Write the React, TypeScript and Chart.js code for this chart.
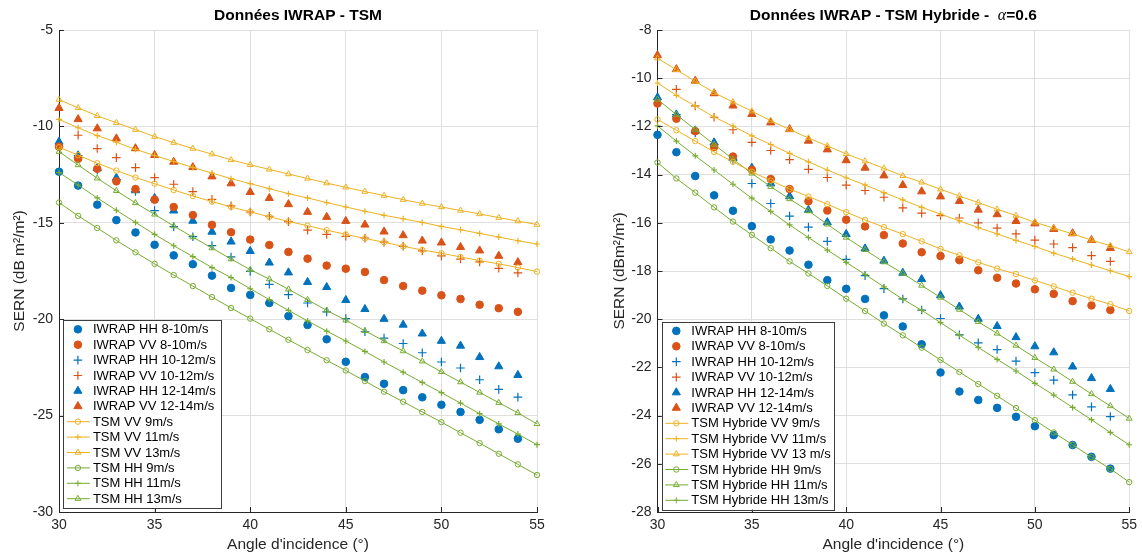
import React, { useEffect, useRef } from 'react';
import { Chart, registerables } from 'chart.js';

Chart.register(...registerables);

const FONT = "'Liberation Sans', Arial, Helvetica, sans-serif";
const BLUE = '#0072BD';
const ORANGE = '#D95319';
const YELLOW = '#EDB120';
const GREEN = '#77AC30';
const AXIS = '#262626';
const GRID = '#dfdfdf';

// ---------- data ----------
const ANGLES_IWRAP = [30, 31, 32, 33, 34, 35, 36, 37, 38, 39, 40, 41, 42, 43, 44, 45, 46, 47, 48, 49, 50, 51, 52, 53, 54];
const ANGLES_TSM = [30, 31, 32, 33, 34, 35, 36, 37, 38, 39, 40, 41, 42, 43, 44, 45, 46, 47, 48, 49, 50, 51, 52, 53, 54, 55];
const X_TICKS = [30, 35, 40, 45, 50, 55];
const Y_TICKS_LEFT = [-30, -25, -20, -15, -10, -5];
const Y_TICKS_RIGHT = [-28, -26, -24, -22, -20, -18, -16, -14, -12, -10, -8];

const IWRAP_HH_8_10 = [-12.35, -13.07, -14.06, -14.86, -15.5, -16.14, -16.69, -17.15, -17.74, -18.38, -18.74, -19.16, -19.84, -20.3, -21.04, -22.21, -23.0, -23.35, -23.68, -24.05, -24.44, -24.81, -25.22, -25.71, -26.2];
const IWRAP_VV_8_10 = [-11.05, -11.68, -12.2, -12.85, -13.25, -13.8, -14.18, -14.6, -15.11, -15.49, -15.87, -16.15, -16.51, -16.86, -17.22, -17.38, -17.55, -17.97, -18.28, -18.52, -18.76, -18.95, -19.25, -19.43, -19.62];
const IWRAP_HH_10_12 = [null, -11.51, -12.27, -12.76, -13.37, -14.37, -15.2, -15.72, -16.18, -16.77, -17.52, -18.19, -18.73, -19.16, -19.62, -19.97, -20.65, -20.98, -21.26, -21.74, -22.22, -22.53, -23.14, -23.64, -24.04];
const IWRAP_VV_10_12 = [null, -10.46, -11.15, -11.62, -12.14, -12.66, -13.0, -13.38, -13.78, -14.12, -14.44, -14.66, -14.94, -15.38, -15.6, -15.7, -15.8, -16.0, -16.22, -16.46, -16.72, -16.88, -17.03, -17.36, -17.6];
const IWRAP_HH_12_14 = [-10.8, -11.51, -12.17, -12.67, -13.32, -13.72, -14.37, -14.9, -15.47, -15.98, -16.47, -17.07, -17.58, -18.08, -18.34, -19.01, -19.48, -19.99, -20.29, -20.75, -21.13, -21.38, -21.97, -22.45, -22.9];
const IWRAP_VV_12_14 = [-9.05, -9.63, -10.11, -10.63, -11.14, -11.49, -11.84, -12.12, -12.6, -12.96, -13.41, -13.72, -14.04, -14.44, -14.7, -14.91, -15.1, -15.46, -15.65, -15.93, -16.03, -16.26, -16.44, -16.72, -17.05];

const TSM_VV_9 = [-11.08, -11.49, -11.91, -12.29, -12.65, -12.97, -13.3, -13.61, -13.9, -14.18, -14.43, -14.69, -14.93, -15.15, -15.38, -15.6, -15.81, -16.01, -16.22, -16.41, -16.58, -16.77, -16.96, -17.13, -17.32, -17.53];
const TSM_VV_11 = [-9.64, -10.07, -10.48, -10.82, -11.19, -11.51, -11.82, -12.13, -12.42, -12.71, -12.97, -13.23, -13.49, -13.71, -13.95, -14.18, -14.4, -14.61, -14.79, -14.98, -15.19, -15.36, -15.55, -15.74, -15.93, -16.1];
const TSM_VV_13 = [-8.61, -9.04, -9.45, -9.81, -10.17, -10.53, -10.84, -11.15, -11.44, -11.74, -11.99, -12.23, -12.47, -12.7, -12.94, -13.16, -13.38, -13.59, -13.8, -14.0, -14.18, -14.36, -14.54, -14.73, -14.91, -15.09];
const TSM_HH_9 = [-13.95, -14.64, -15.27, -15.91, -16.53, -17.13, -17.71, -18.28, -18.85, -19.42, -19.97, -20.52, -21.07, -21.6, -22.13, -22.66, -23.21, -23.76, -24.28, -24.81, -25.34, -25.89, -26.43, -26.98, -27.53, -28.08];
const TSM_HH_11 = [-12.39, -13.04, -13.71, -14.35, -14.98, -15.6, -16.19, -16.75, -17.32, -17.84, -18.42, -18.98, -19.54, -20.09, -20.62, -21.13, -21.67, -22.22, -22.75, -23.28, -23.81, -24.35, -24.9, -25.43, -25.96, -26.51];
const TSM_HH_13 = [-11.31, -12.0, -12.69, -13.34, -13.97, -14.56, -15.17, -15.74, -16.31, -16.88, -17.43, -17.92, -18.45, -18.99, -19.54, -20.05, -20.6, -21.13, -21.65, -22.18, -22.73, -23.26, -23.8, -24.33, -24.86, -25.43];

const HYB_VV_9 = [-11.71, -12.16, -12.61, -13.06, -13.47, -13.88, -14.25, -14.6, -14.91, -15.23, -15.56, -15.88, -16.18, -16.47, -16.77, -17.08, -17.35, -17.64, -17.9, -18.13, -18.39, -18.64, -18.9, -19.15, -19.38, -19.66];
const HYB_VV_11 = [-10.2, -10.71, -11.15, -11.61, -11.99, -12.39, -12.75, -13.12, -13.47, -13.81, -14.13, -14.43, -14.75, -15.05, -15.36, -15.64, -15.92, -16.2, -16.46, -16.73, -16.98, -17.26, -17.5, -17.75, -17.99, -18.23];
const HYB_VV_13 = [-9.17, -9.65, -10.13, -10.6, -10.99, -11.37, -11.76, -12.13, -12.48, -12.81, -13.14, -13.44, -13.74, -14.05, -14.32, -14.61, -14.89, -15.16, -15.44, -15.7, -15.98, -16.22, -16.46, -16.72, -16.95, -17.21];
const HYB_HH_9 = [-13.5, -14.16, -14.75, -15.36, -15.95, -16.5, -17.05, -17.6, -18.1, -18.62, -19.15, -19.66, -20.18, -20.67, -21.18, -21.69, -22.19, -22.69, -23.18, -23.69, -24.19, -24.7, -25.21, -25.72, -26.21, -26.76];
const HYB_HH_11 = [-10.88, -11.51, -12.13, -12.75, -13.36, -13.95, -14.5, -15.01, -15.51, -16.06, -16.61, -17.12, -17.63, -18.1, -18.6, -19.1, -19.6, -20.11, -20.59, -21.09, -21.6, -22.08, -22.59, -23.1, -23.6, -24.12];
const HYB_HH_13 = [-11.98, -12.61, -13.22, -13.81, -14.4, -14.98, -15.53, -16.09, -16.61, -17.13, -17.64, -18.14, -18.66, -19.17, -19.63, -20.14, -20.66, -21.17, -21.67, -22.15, -22.66, -23.15, -23.66, -24.17, -24.7, -25.21];

// ---------- series definitions ----------
type Marker = 'circle' | 'cross' | 'triangle';
interface Series { label: string; x: number[]; y: (number | null)[]; color: string; marker: Marker; line: boolean; }

const IWRAP_SERIES: Series[] = [
  { label: 'IWRAP HH 8-10m/s', x: ANGLES_IWRAP, y: IWRAP_HH_8_10, color: BLUE, marker: 'circle', line: false },
  { label: 'IWRAP VV 8-10m/s', x: ANGLES_IWRAP, y: IWRAP_VV_8_10, color: ORANGE, marker: 'circle', line: false },
  { label: 'IWRAP HH 10-12m/s', x: ANGLES_IWRAP, y: IWRAP_HH_10_12, color: BLUE, marker: 'cross', line: false },
  { label: 'IWRAP VV 10-12m/s', x: ANGLES_IWRAP, y: IWRAP_VV_10_12, color: ORANGE, marker: 'cross', line: false },
  { label: 'IWRAP HH 12-14m/s', x: ANGLES_IWRAP, y: IWRAP_HH_12_14, color: BLUE, marker: 'triangle', line: false },
  { label: 'IWRAP VV 12-14m/s', x: ANGLES_IWRAP, y: IWRAP_VV_12_14, color: ORANGE, marker: 'triangle', line: false },
];

const LEFT_SERIES: Series[] = [
  ...IWRAP_SERIES,
  { label: 'TSM VV 9m/s', x: ANGLES_TSM, y: TSM_VV_9, color: YELLOW, marker: 'circle', line: true },
  { label: 'TSM VV 11m/s', x: ANGLES_TSM, y: TSM_VV_11, color: YELLOW, marker: 'cross', line: true },
  { label: 'TSM VV 13m/s', x: ANGLES_TSM, y: TSM_VV_13, color: YELLOW, marker: 'triangle', line: true },
  { label: 'TSM HH 9m/s', x: ANGLES_TSM, y: TSM_HH_9, color: GREEN, marker: 'circle', line: true },
  { label: 'TSM HH 11m/s', x: ANGLES_TSM, y: TSM_HH_11, color: GREEN, marker: 'cross', line: true },
  { label: 'TSM HH 13m/s', x: ANGLES_TSM, y: TSM_HH_13, color: GREEN, marker: 'triangle', line: true },
];

const RIGHT_SERIES: Series[] = [
  ...IWRAP_SERIES,
  { label: 'TSM Hybride VV 9m/s', x: ANGLES_TSM, y: HYB_VV_9, color: YELLOW, marker: 'circle', line: true },
  { label: 'TSM Hybride VV 11m/s', x: ANGLES_TSM, y: HYB_VV_11, color: YELLOW, marker: 'cross', line: true },
  { label: 'TSM Hybride VV 13 m/s', x: ANGLES_TSM, y: HYB_VV_13, color: YELLOW, marker: 'triangle', line: true },
  { label: 'TSM Hybride HH 9m/s', x: ANGLES_TSM, y: HYB_HH_9, color: GREEN, marker: 'circle', line: true },
  { label: 'TSM Hybride HH 11m/s', x: ANGLES_TSM, y: HYB_HH_11, color: GREEN, marker: 'triangle', line: true },
  { label: 'TSM Hybride HH 13m/s', x: ANGLES_TSM, y: HYB_HH_13, color: GREEN, marker: 'cross', line: true },
];

// ---------- styling ----------
const IWRAP_RADIUS: Record<Marker, number> = { circle: 3.8, cross: 4.3, triangle: 4.7 };
const TSM_RADIUS: Record<Marker, number> = { circle: 2.7, cross: 3.0, triangle: 3.4 };

interface Panel {
  canvasLeft: number;
  yAxisWidth: number;
  padRight: number;
  padTop: number;
  xAxisHeight: number;
  yMin: number;
  yMax: number;
  yTicks: number[];
  yTitle: string;
  yTitlePad: number;
  title: { text: string; italic?: boolean }[];
  series: Series[];
  legend: { dx: number; bottomGap: number; width: number; height: number };
}

const W = 571;
const H = 558;

const LEFT_PANEL: Panel = {
  canvasLeft: 0, yAxisWidth: 59, padRight: 34, padTop: 30, xAxisHeight: 46,
  yMin: -30, yMax: -5, yTicks: Y_TICKS_LEFT,
  yTitle: 'SERN (dB m²/m²)', yTitlePad: 10,
  title: [{ text: 'Données IWRAP - TSM' }],
  series: LEFT_SERIES,
  legend: { dx: 4.4, bottomGap: 4, width: 158, height: 188 },
};

const RIGHT_PANEL: Panel = {
  canvasLeft: 571, yAxisWidth: 86.5, padRight: 12, padTop: 30, xAxisHeight: 46,
  yMin: -28, yMax: -8, yTicks: Y_TICKS_RIGHT,
  yTitle: 'SERN (dBm²/m²)', yTitlePad: 39,
  title: [{ text: 'Données IWRAP - TSM Hybride -  ' }, { text: 'α', italic: true }, { text: '=0.6' }],
  series: RIGHT_SERIES,
  legend: { dx: 4.3, bottomGap: 2.4, width: 172, height: 188 },
};

function drawMarker(ctx: CanvasRenderingContext2D, m: Marker, x: number, y: number, r: number, color: string, filled: boolean, lw: number) {
  ctx.save();
  ctx.strokeStyle = color;
  ctx.fillStyle = color;
  ctx.lineWidth = lw;
  ctx.beginPath();
  if (m === 'circle') {
    ctx.arc(x, y, r, 0, Math.PI * 2);
    ctx.closePath();
    if (filled) ctx.fill();
    ctx.stroke();
  } else if (m === 'cross') {
    ctx.moveTo(x, y - r);
    ctx.lineTo(x, y + r);
    ctx.moveTo(x - r, y);
    ctx.lineTo(x + r, y);
    ctx.stroke();
  } else {
    let rad = 0;
    ctx.moveTo(x + Math.sin(rad) * r, y - Math.cos(rad) * r);
    rad += (2 * Math.PI) / 3;
    ctx.lineTo(x + Math.sin(rad) * r, y - Math.cos(rad) * r);
    rad += (2 * Math.PI) / 3;
    ctx.lineTo(x + Math.sin(rad) * r, y - Math.cos(rad) * r);
    ctx.closePath();
    if (filled) ctx.fill();
    ctx.stroke();
  }
  ctx.restore();
}

function makeConfig(p: Panel): any {
  const datasets = p.series.map((s) => {
    const pts = s.x
      .map((xv, i) => ({ x: xv, y: s.y[i] }))
      .filter((pt) => pt.y !== null && pt.y !== undefined);
    const r = s.line ? TSM_RADIUS[s.marker] : IWRAP_RADIUS[s.marker];
    return {
      label: s.label,
      data: pts,
      showLine: s.line,
      borderColor: s.color,
      borderWidth: 1,
      backgroundColor: s.color,
      pointStyle: s.marker,
      pointRadius: r,
      pointHoverRadius: r,
      pointBorderColor: s.color,
      pointBackgroundColor: s.line ? 'rgba(0,0,0,0)' : s.color,
      pointBorderWidth: s.marker === 'cross' ? 1.2 : 1,
      order: s.line ? 0 : 1,
      clip: false,
      tension: 0,
    };
  });

  const titlePlugin = {
    id: 'panelTitle',
    afterDraw(chart: any) {
      const { ctx, chartArea } = chart;
      const fonts = p.title.map((t) => (t.italic ? "italic 16px 'Liberation Serif', serif" : `bold 15.5px ${FONT}`));
      ctx.save();
      const widths = p.title.map((t, i) => {
        ctx.font = fonts[i];
        return ctx.measureText(t.text).width;
      });
      const total = widths.reduce((a, b) => a + b, 0);
      let x = (chartArea.left + chartArea.right) / 2 - total / 2;
      ctx.fillStyle = '#000';
      ctx.textBaseline = 'middle';
      ctx.textAlign = 'left';
      p.title.forEach((t, i) => {
        ctx.font = fonts[i];
        ctx.fillText(t.text, x, 16);
        x += widths[i];
      });
      ctx.restore();
    },
  };

  const tickLegendPlugin = {
    id: 'ticksAndLegend',
    afterDraw(chart: any) {
      const { ctx, chartArea } = chart;
      const xs = chart.scales.x;
      const ys = chart.scales.y;
      ctx.save();
      ctx.strokeStyle = AXIS;
      ctx.lineWidth = 1;
      ctx.beginPath();
      X_TICKS.forEach((v) => {
        const px = Math.round(xs.getPixelForValue(v)) + 0.5;
        ctx.moveTo(px, chartArea.bottom);
        ctx.lineTo(px, chartArea.bottom - 5);
      });
      p.yTicks.forEach((v) => {
        const py = Math.round(ys.getPixelForValue(v)) + 0.5;
        ctx.moveTo(chartArea.left, py);
        ctx.lineTo(chartArea.left + 5, py);
      });
      ctx.stroke();
      ctx.restore();

      // legend box
      const L = p.legend;
      const left = chartArea.left + L.dx;
      const bottom = chartArea.bottom - L.bottomGap;
      const top = bottom - L.height;
      ctx.save();
      ctx.fillStyle = '#ffffff';
      ctx.fillRect(left, top, L.width, L.height);
      ctx.strokeStyle = '#3c3c3c';
      ctx.lineWidth = 1;
      ctx.strokeRect(Math.round(left) + 0.5, Math.round(top) + 0.5, Math.round(L.width), Math.round(L.height));
      const rowH = (L.height - 18.6) / (p.series.length - 1);
      p.series.forEach((s, i) => {
        const cy = top + 9.3 + i * rowH;
        const mx = left + 14.5;
        if (s.line) {
          ctx.save();
          ctx.strokeStyle = s.color;
          ctx.lineWidth = 1;
          ctx.beginPath();
          ctx.moveTo(left + 3.5, cy);
          ctx.lineTo(left + 26.5, cy);
          ctx.stroke();
          ctx.restore();
          drawMarker(ctx, s.marker, mx, cy, TSM_RADIUS[s.marker], s.color, false, 1);
        } else {
          drawMarker(ctx, s.marker, mx, cy, IWRAP_RADIUS[s.marker], s.color, true, s.marker === 'cross' ? 1.2 : 1);
        }
        ctx.fillStyle = '#000';
        ctx.font = `13px ${FONT}`;
        ctx.textBaseline = 'middle';
        ctx.textAlign = 'left';
        ctx.fillText(s.label, left + 29.5, cy + 0.5);
      });
      ctx.restore();
    },
  };

  return {
    type: 'scatter',
    data: { datasets },
    plugins: [titlePlugin, tickLegendPlugin],
    options: {
      responsive: false,
      animation: false,
      devicePixelRatio: 1,
      events: [],
      layout: { padding: { left: 0, right: p.padRight, top: p.padTop, bottom: 0 } },
      plugins: { legend: { display: false }, title: { display: false }, tooltip: { enabled: false } },
      scales: {
        x: {
          type: 'linear',
          min: 30,
          max: 55,
          afterBuildTicks: (s: any) => {
            s.ticks = X_TICKS.map((v) => ({ value: v }));
          },
          afterFit: (s: any) => {
            s.height = p.xAxisHeight;
          },
          ticks: {
            color: AXIS,
            font: { family: FONT, size: 14 },
            padding: 5,
            maxRotation: 0,
            autoSkip: false,
            callback: (v: any) => String(v),
          },
          grid: { color: GRID, drawTicks: false, lineWidth: 1 },
          border: { display: true, color: AXIS, width: 1 },
          title: {
            display: true,
            text: "Angle d'incidence (°)",
            color: AXIS,
            font: { family: FONT, size: 15.5 },
            padding: { top: 0, bottom: 4 },
          },
        },
        y: {
          type: 'linear',
          min: p.yMin,
          max: p.yMax,
          afterBuildTicks: (s: any) => {
            s.ticks = p.yTicks.map((v) => ({ value: v }));
          },
          afterFit: (s: any) => {
            s.width = p.yAxisWidth;
          },
          ticks: {
            color: AXIS,
            font: { family: FONT, size: 14 },
            padding: 6,
            autoSkip: false,
            callback: (v: any) => String(v),
          },
          grid: { color: GRID, drawTicks: false, lineWidth: 1 },
          border: { display: true, color: AXIS, width: 1 },
          title: {
            display: true,
            text: p.yTitle,
            color: AXIS,
            font: { family: FONT, size: 15.5 },
            padding: { top: p.yTitlePad, bottom: 0 },
          },
        },
      },
    },
  };
}

function PlotPanel({ panel }: { panel: Panel }) {
  const ref = useRef<HTMLCanvasElement>(null);
  useEffect(() => {
    if (!ref.current) return;
    const chart = new Chart(ref.current, makeConfig(panel));
    return () => chart.destroy();
  }, [panel]);
  return (
    <div style={{ position: 'absolute', left: panel.canvasLeft, top: 0, width: W, height: H }}>
      <canvas ref={ref} width={W} height={H} style={{ display: 'block', width: W, height: H }} />
    </div>
  );
}

export default function App() {
  return (
    <div style={{ position: 'absolute', left: 0, top: 0, width: 1142, height: 558, background: '#ffffff', overflow: 'hidden' }}>
      <PlotPanel panel={LEFT_PANEL} />
      <PlotPanel panel={RIGHT_PANEL} />
    </div>
  );
}
